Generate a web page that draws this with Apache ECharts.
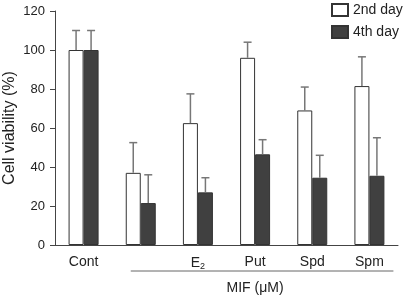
<!DOCTYPE html>
<html>
<head>
<meta charset="utf-8">
<script src="https://cdn.jsdelivr.net/npm/echarts@6/dist/echarts.min.js"></script>
<style>
  html, body { margin: 0; padding: 0; background: #fff; }
  #chart { width: 403px; height: 298px; }
</style>
</head>
<body>
<div id="chart"></div>
<script>
var categories = ['Cont', '', 'E2', 'Put', 'Spd', 'Spm'];
var day2 = [100, 37, 62.5, 96, 69, 81.5];
var day2Err = [110, 52.5, 77.5, 104, 81, 96.5];
var day4 = [100, 21.5, 27, 46.5, 34.5, 35.5];
var day4Err = [110, 36, 34.5, 54, 46, 55];
var yTicks = [0, 20, 40, 60, 80, 100, 120];

var barW = 15;
var chart = echarts.init(document.getElementById('chart'));

function errData(vals, tops) {
    var out = [];
    for (var i = 0; i < vals.length; i++) {
        out.push([i, tops[i], vals[i]]);
    }
    return out;
}

function errRender(side) {
    return function (params, api) {
        var top = api.coord([api.value(0), api.value(1)]);
        var base = api.coord([api.value(0), api.value(2)]);
        var x = top[0] + side * barW / 2;
        return {
            type: 'group',
            children: [
                { type: 'line', shape: { x1: x, y1: base[1], x2: x, y2: top[1] },
                  style: { stroke: '#777', lineWidth: 1.5 } },
                { type: 'line', shape: { x1: x - 4, y1: top[1], x2: x + 4, y2: top[1] },
                  style: { stroke: '#777', lineWidth: 1.5 } }
            ]
        };
    };
}

var option = {
    animation: false,
    textStyle: { fontFamily: 'Liberation Sans, Arial, sans-serif' },
    legend: {
        orient: 'vertical',
        left: 331,
        top: 3,
        padding: 0,
        itemWidth: 16,
        itemHeight: 12,
        itemGap: 8,
        icon: 'rect',
        textStyle: { fontSize: 14, color: '#222' },
        data: ['2nd day', '4th day']
    },
    grid: { left: 55, right: 5, top: 11, bottom: 53, outerBoundsMode: 'none', containLabel: false },
    xAxis: {
        type: 'category',
        data: categories,
        axisLine: { lineStyle: { color: '#444' } },
        axisTick: { length: 5, lineStyle: { color: '#444' } },
        axisLabel: {
            interval: 0,
            fontSize: 14, color: '#222', margin: 10,
            formatter: function (v) { return v === 'E2' ? 'E{sub|2}' : v; },
            rich: { sub: { fontSize: 9, verticalAlign: 'bottom', padding: [7, 0, 0, 0], color: '#222' } }
        }
    },
    yAxis: {
        type: 'value',
        min: yTicks[0],
        max: yTicks[yTicks.length - 1],
        interval: 20,
        name: 'Cell viability (%)',
        nameLocation: 'middle',
        nameGap: 37,
        nameMoveOverlap: false,
        nameTextStyle: { fontSize: 16, color: '#222' },
        axisLine: { show: true, lineStyle: { color: '#444' } },
        axisTick: { show: true, length: 5, lineStyle: { color: '#444' } },
        axisLabel: { fontSize: 13, color: '#222', margin: 10 },
        splitLine: { show: false }
    },
    series: [
        {
            name: '2nd day', type: 'bar', data: day2, barWidth: barW, barGap: '0%',
            itemStyle: { color: '#fff', borderColor: '#333', borderWidth: 1 }
        },
        {
            name: '4th day', type: 'bar', data: day4, barWidth: barW, barGap: '0%',
            itemStyle: { color: '#404040', borderColor: '#333', borderWidth: 1 }
        },
        { type: 'custom', renderItem: errRender(-1), data: errData(day2, day2Err), z: 5, silent: true },
        { type: 'custom', renderItem: errRender(1), data: errData(day4, day4Err), z: 5, silent: true }
    ]
};
chart.setOption(option);

// bracket line under the MIF groups and its label
var c1 = chart.convertToPixel({ xAxisIndex: 0 }, 1);
var c5 = chart.convertToPixel({ xAxisIndex: 0 }, 5);
chart.setOption({
    graphic: [
        { type: 'line', shape: { x1: c1 - 10, y1: 271, x2: c5 + 24, y2: 271 },
          style: { stroke: '#666', lineWidth: 1 } },
        { type: 'text', x: (c1 + c5) / 2, y: 288,
          style: { text: 'MIF (\u03bcM)', fontSize: 14, fill: '#222', align: 'center', verticalAlign: 'middle',
                   fontFamily: 'Liberation Sans, Arial, sans-serif' } }
    ]
});
</script>
</body>
</html>
